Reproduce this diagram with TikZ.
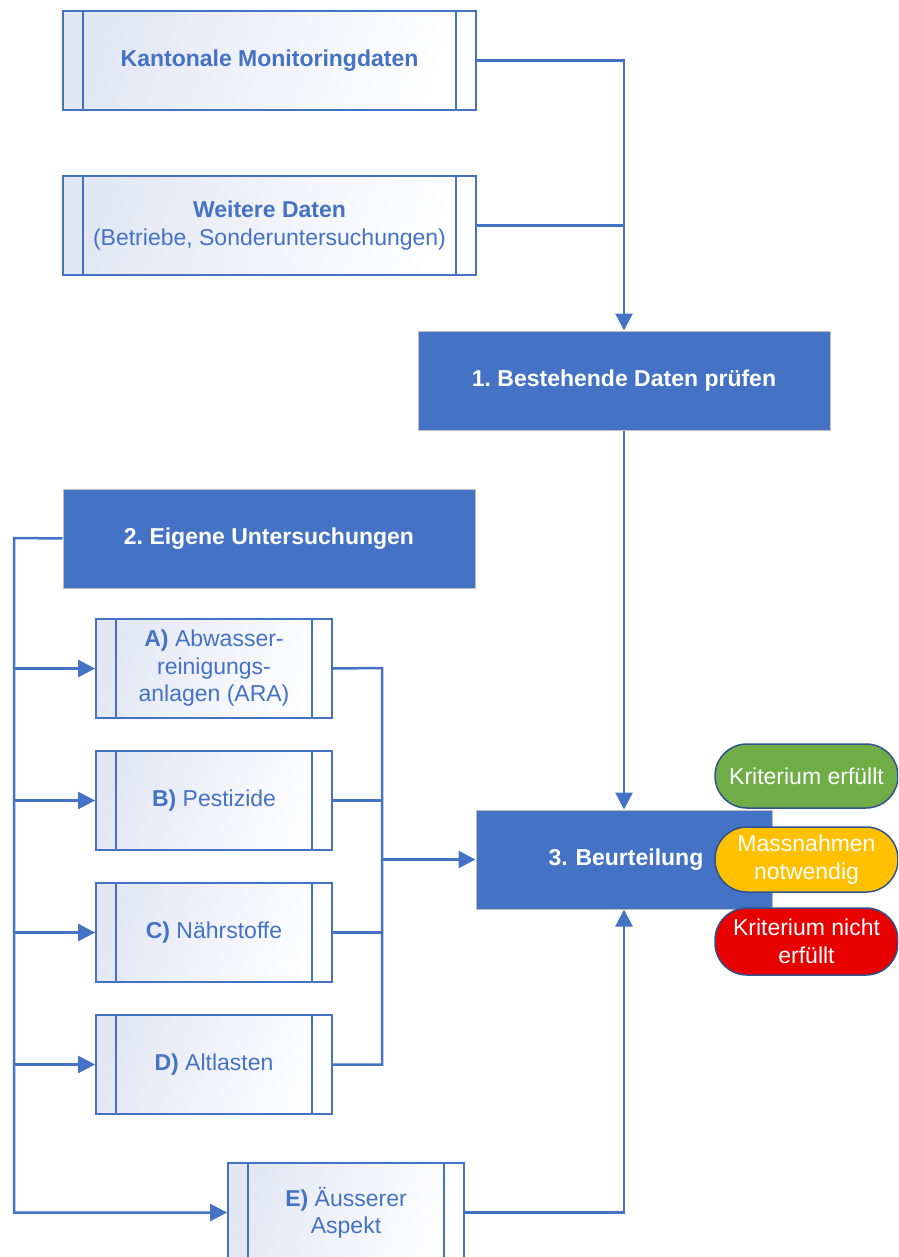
\documentclass[tikz,border=0pt]{standalone}
\usepackage{fontspec}
\setmainfont{Liberation Sans}
\usetikzlibrary{arrows.meta}
\frenchspacing
\definecolor{mblue}{HTML}{4472C4}
\definecolor{pborder}{HTML}{2F528F}
\definecolor{mgreen}{HTML}{70AD47}
\definecolor{myellow}{HTML}{FFC000}
\definecolor{mred}{HTML}{E80000}
\definecolor{lav}{HTML}{E3E7F4}
\tikzset{
  procbox/.style={draw=mblue, line width=1.8pt, minimum height=99pt, inner sep=0pt,
    left color=lav, right color=white, shading angle=70, text=mblue, align=center,
    font=\fontsize{23}{27.5}\selectfont,
    path picture={
      \draw[mblue, line width=1.8pt]
        ([xshift=20pt]path picture bounding box.north west) -- ([xshift=20pt]path picture bounding box.south west)
        ([xshift=-20pt]path picture bounding box.north east) -- ([xshift=-20pt]path picture bounding box.south east);
    }},
  bluebox/.style={draw=black!25, line width=1pt, fill=mblue, minimum height=99pt, inner sep=0pt,
    text=white, align=center, font=\fontsize{23}{27.5}\selectfont\bfseries},
  pill/.style={draw=pborder, line width=1.5pt, rounded corners=32pt, minimum width=183pt,
    inner sep=0pt, text=white, align=center, font=\fontsize{23}{27.5}\selectfont},
  conn/.style={draw=mblue, line width=2.5pt},
  arr/.style={conn, -{Triangle[length=17pt,width=17pt]}}
}
\begin{document}
\begin{tikzpicture}[x=1pt,y=-1pt]
\useasboundingbox (0,0) rectangle (898,1257);
\clip (0,0) rectangle (898,1257);

\node[procbox, minimum width=413pt] (kant) at (269.5,60.5) {\textbf{Kantonale Monitoringdaten}};
\node[procbox, minimum width=413pt] (weit) at (269.5,225.5) {\textbf{Weitere Daten}\\(Betriebe, Sonderuntersuchungen)};
\node[bluebox, minimum width=412pt] (best) at (624,380.5) {1. Bestehende Daten prüfen};
\node[bluebox, minimum width=412pt] (eig) at (269,538.5) {2. Eigene Untersuchungen};

\node[procbox, minimum width=236pt] (A) at (214,668.5) {\textbf{A)} Abwasser-\\reinigungs-\\anlagen (ARA)};
\node[procbox, minimum width=236pt] (B) at (214,800.5) {\textbf{B)} Pestizide};
\node[procbox, minimum width=236pt] (C) at (214,932.5) {\textbf{C)} Nährstoffe};
\node[procbox, minimum width=236pt] (D) at (214,1064.5) {\textbf{D)} Altlasten};
\node[procbox, minimum width=236pt] (E) at (346,1212.5) {\textbf{E)} Äusserer\\Aspekt};

\node[bluebox, minimum width=296pt, text width=296pt] (beur) at (624,859.5) {3. Beurteilung\hspace*{-4pt}};

\node[pill, fill=mgreen, minimum height=64pt] (g) at (806.5,776) {Kriterium erfüllt};
\node[pill, fill=myellow, minimum height=65pt] (y) at (806.5,859.5) {Massnahmen\\notwendig};
\node[pill, fill=mred, minimum height=67pt] (r) at (806.5,941.5) {Kriterium nicht\\erfüllt};

\coordinate (lbus) at (14,538);
\coordinate (rbus) at (382,668);

\draw[arr] (kant.east) -| (best.north);
\draw[conn] (weit.east) -- (weit.east -| best.north);
\draw[arr] (best.south) -- (beur.north);

\draw[arr] (eig.west) -- (lbus) |- (E.west);
\draw[arr] (A.west -| lbus) -- (A.west);
\draw[arr] (B.west -| lbus) -- (B.west);
\draw[arr] (C.west -| lbus) -- (C.west);
\draw[arr] (D.west -| lbus) -- (D.west);

\draw[conn] (A.east) -- (rbus) -- (D.east -| rbus) -- (D.east);
\draw[conn] (B.east) -- (B.east -| rbus);
\draw[conn] (C.east) -- (C.east -| rbus);
\draw[arr] (beur.west -| rbus) -- (beur.west);

\draw[arr] (E.east) -| (beur.south);
\end{tikzpicture}
\end{document}
